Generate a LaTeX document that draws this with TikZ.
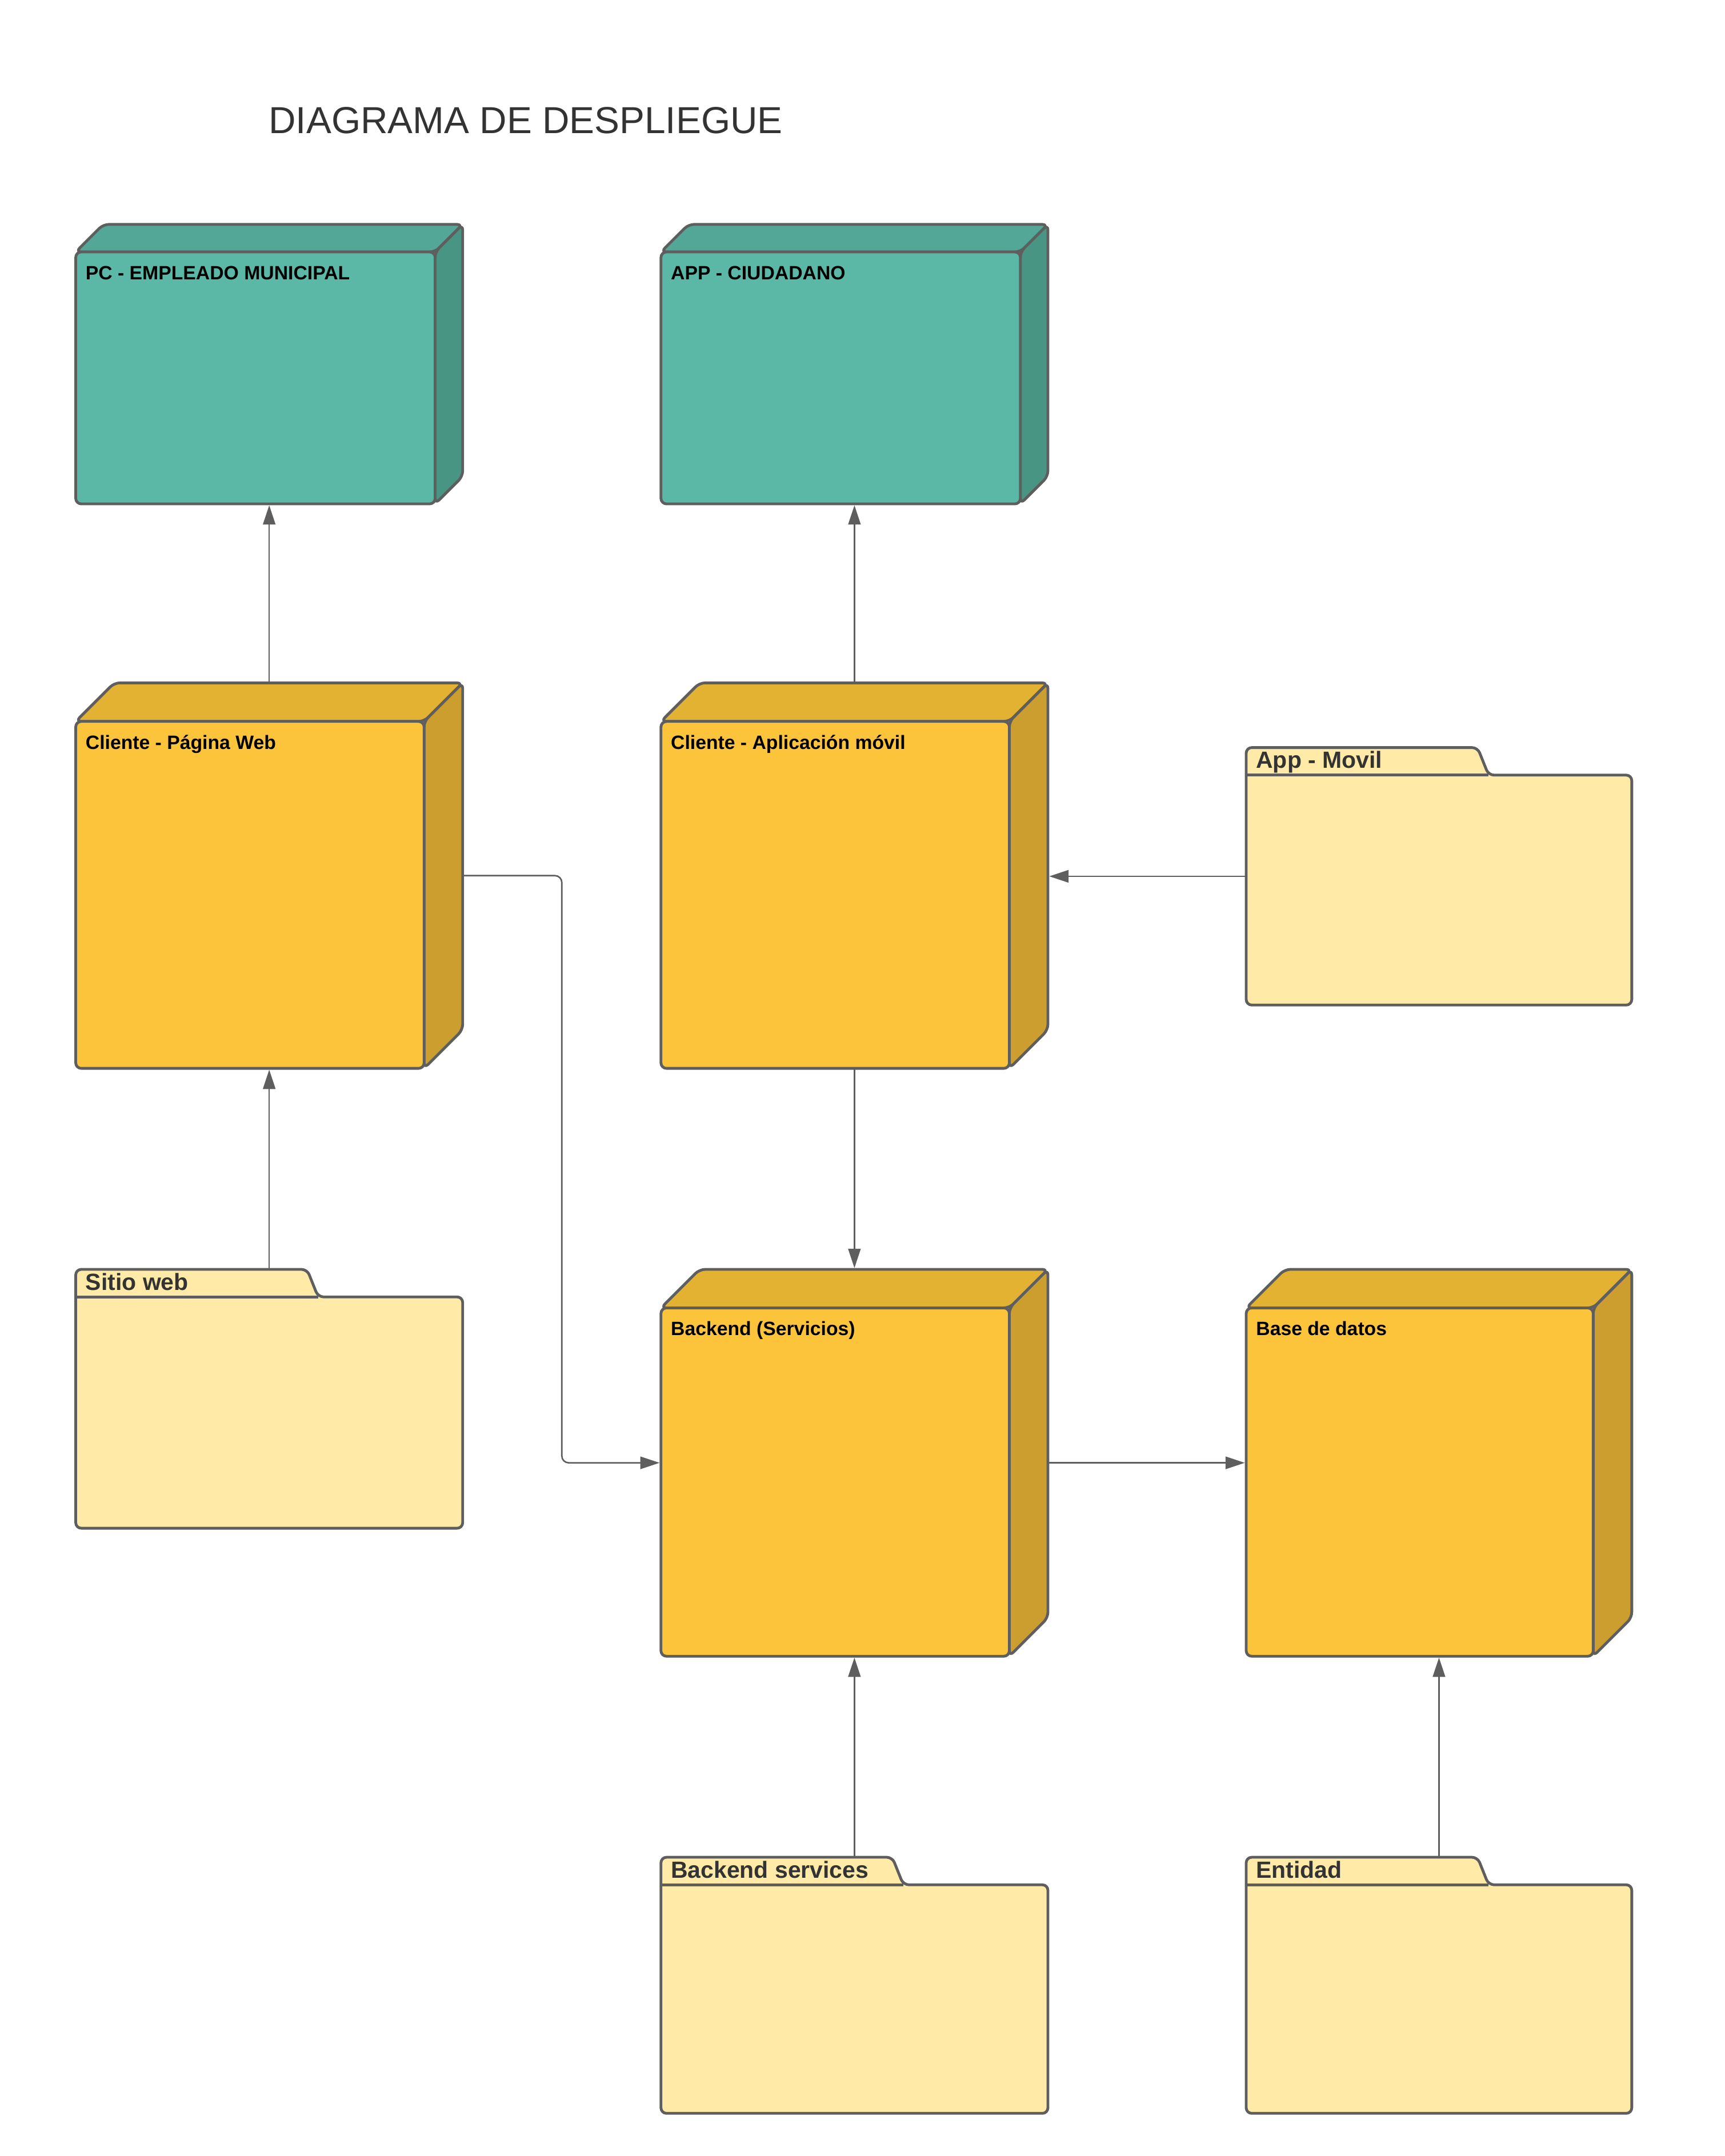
\documentclass[tikz,border=0pt]{standalone}
\usepackage{fontspec}
\setmainfont{Liberation Sans}
\usetikzlibrary{arrows.meta}

\definecolor{edge}{HTML}{5E5E5E}
\definecolor{darktext}{HTML}{333333}
\definecolor{tealfront}{HTML}{5CB8A6}
\definecolor{tealtop}{HTML}{52A796}
\definecolor{tealside}{HTML}{499584}
\definecolor{goldfront}{HTML}{FBC43A}
\definecolor{goldtop}{HTML}{E3B233}
\definecolor{goldside}{HTML}{CC9E2F}
\definecolor{folder}{HTML}{FFEBA7}

% 3D node: name, x, y, width, height, depth, colour, label
\newcommand{\devnode}[8]{%
    \node (#1) at (#2,-#3) [bbox, minimum width=#4pt, minimum height=#5pt] {};
    \fill[#7top, rounded corners=4pt] (#2,-#3-#6) -- (#2+#6,-#3) -- (#2+#4,-#3) -- (#2+#4,-#3-#5+#6) -- (#2+#4-#6,-#3-#5) -- (#2,-#3-#5) -- cycle;
    \filldraw[outline, fill=#7top] (#2,-#3-#6) -- (#2+#6,-#3) -- (#2+#4,-#3) -- (#2+#4-#6,-#3-#6) -- cycle;
    \filldraw[outline, fill=#7side] (#2+#4-#6,-#3-#6) -- (#2+#4,-#3) -- (#2+#4,-#3-#5+#6) -- (#2+#4-#6,-#3-#5) -- cycle;
    \filldraw[outline, fill=#7front] (#2,-#3-#6) rectangle (#2+#4-#6,-#3-#5);
    \node (#1-label) at (#2+7,-#3-#6-20) [nodelabel] {#8};
}

% package folder: name, x, y, width, height, label
\newcommand{\pkgnode}[6]{%
    \node (#1) at (#2,-#3) [bbox, minimum width=#4pt, minimum height=#5pt] {};
    \filldraw[outline, fill=folder] (#2,-#3-#5) -- (#2,-#3) -- (#2+168,-#3) -- (#2+176,-#3-20) -- (#2+#4,-#3-20) -- (#2+#4,-#3-#5) -- cycle;
    \draw[outline] (#2,-#3-20) -- (#2+176,-#3-20);
    \node (#1-label) at (#2+7,-#3-15) [pkglabel] {#6};
}

\begin{document}
\begin{tikzpicture}[x=1pt, y=1pt,
    outline/.style={draw=edge, line width=2pt, line join=round, rounded corners=4pt},
    bbox/.style={rectangle, draw=none, inner sep=0pt, outer sep=0pt, anchor=north west},
    nodelabel/.style={anchor=base west, inner sep=0pt, text=black, font=\bfseries\fontsize{14}{16}\selectfont},
    pkglabel/.style={anchor=base west, inner sep=0pt, text=darktext, font=\bfseries\fontsize{17}{20}\selectfont},
    link/.style={draw=edge, line width=1.1pt, rounded corners=5pt, shorten >=1pt, -{Triangle[length=14pt, width=9pt]}}]
    \useasboundingbox (0,0) rectangle (1252.7,-1566);

    \node (title) at (195,-97) [anchor=base west, inner sep=0pt, text=darktext, font=\fontsize{27.3}{32}\selectfont] {DIAGRAMA DE DESPLIEGUE};

    % Top row
    \devnode{pc}{55}{163}{281}{203}{20}{teal}{PC - EMPLEADO MUNICIPAL}
    \devnode{app}{480}{163}{281}{203}{20}{teal}{APP - CIUDADANO}

    % Clients
    \devnode{webclient}{55}{496}{281}{280}{28}{gold}{Cliente - Página Web}
    \devnode{appclient}{480}{496}{281}{280}{28}{gold}{Cliente - Aplicación móvil}
    \pkgnode{appmovil}{905}{543}{280}{187}{App - Movil}

    % Backend row
    \pkgnode{sitio}{55}{922}{281}{188}{Sitio web}
    \devnode{backend}{480}{922}{281}{281}{28}{gold}{Backend (Servicios)}
    \devnode{basedatos}{905}{922}{280}{281}{28}{gold}{Base de datos}

    % Bottom row
    \pkgnode{bservices}{480}{1349}{281}{186}{Backend services}
    \pkgnode{entidad}{905}{1349}{280}{186}{Entidad}

    % Connectors
    \draw[link] (webclient.north) -- (pc.south);
    \draw[link] (appclient.north) -- (app.south);
    \draw[link] (sitio.north) -- (webclient.south);
    \draw[link] (webclient.east) -- ++(72,0) |- (backend.west);
    \draw[link] (appmovil.west) -- (appmovil.west -| appclient.east);
    \draw[link] (appclient.south) -- (backend.north);
    \draw[link] (backend.east) -- (basedatos.west);
    \draw[link] (bservices.north) -- (backend.south);
    \draw[link] (entidad.north) -- (basedatos.south);
\end{tikzpicture}
\end{document}
